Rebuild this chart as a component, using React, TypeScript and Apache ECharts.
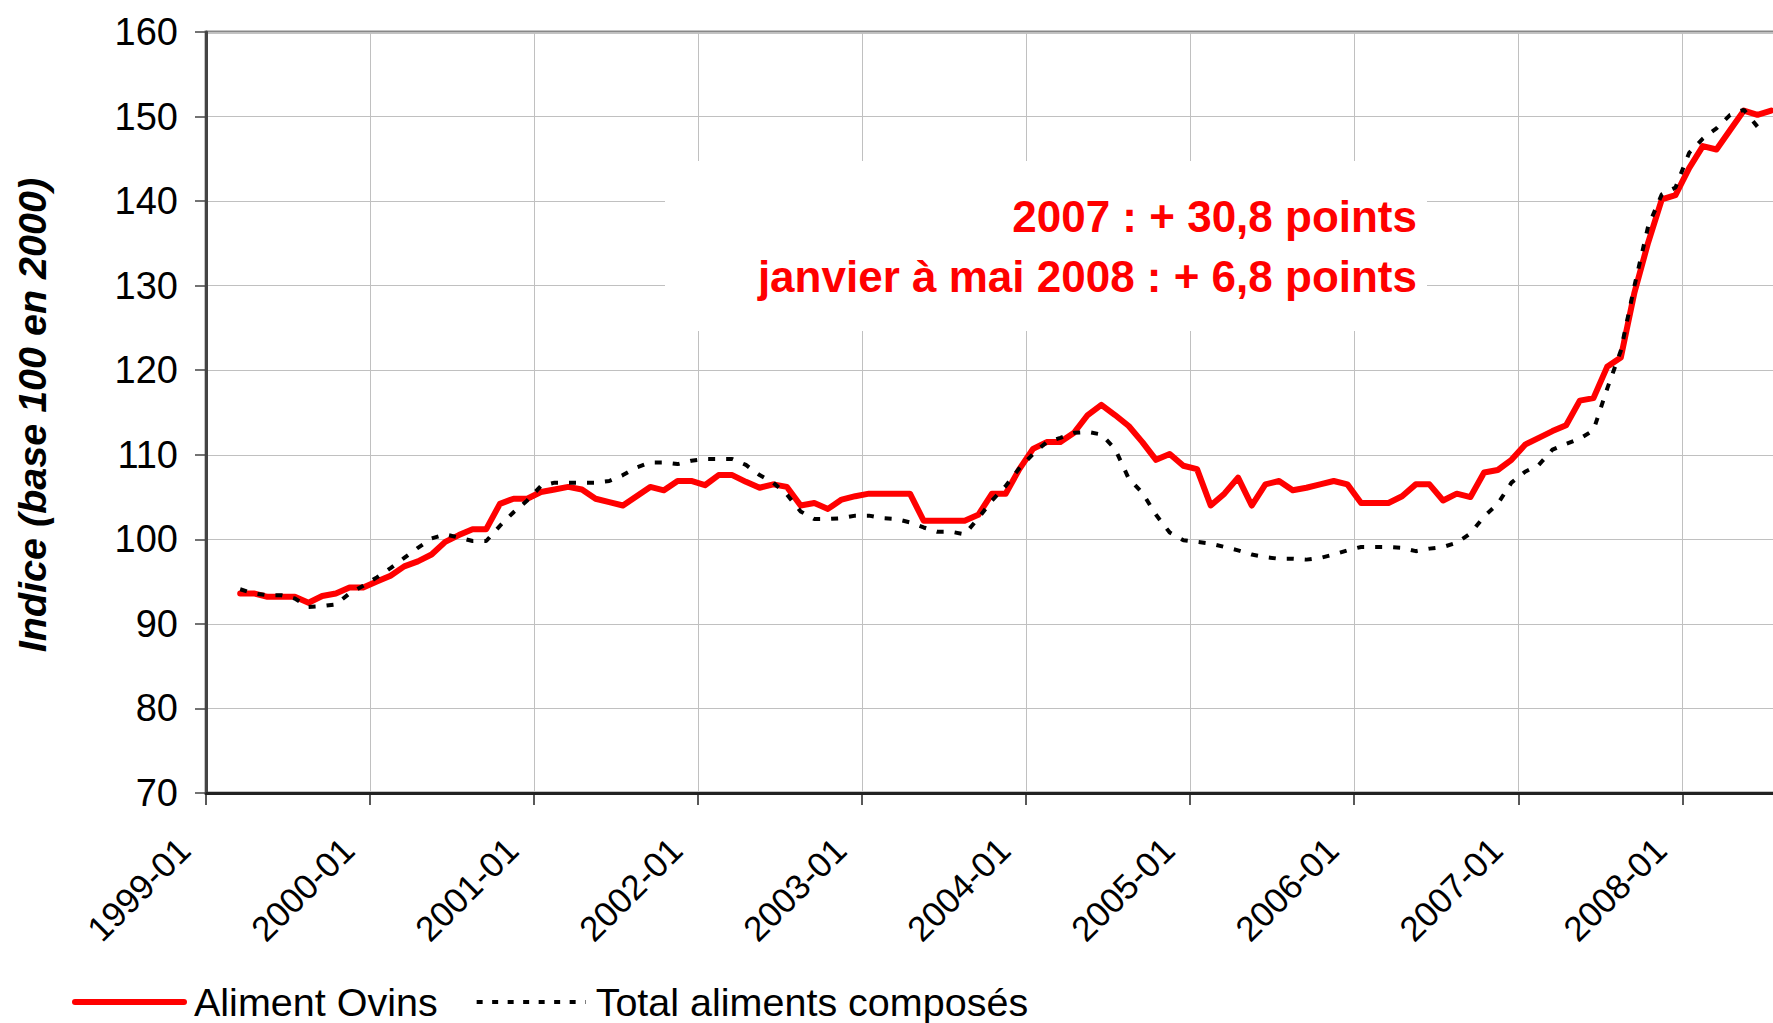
import React, { useEffect, useRef } from "react";
import * as echarts from "echarts";

const FONT = '"Liberation Sans", Arial, Helvetica, sans-serif';

// Category axis: months from 1999-01 to 2008-07
const years = [1999, 2000, 2001, 2002, 2003, 2004, 2005, 2006, 2007, 2008];
const monthLabels = ["01", "02", "03", "04", "05", "06", "07", "08", "09", "10", "11", "12"];
const lastYearMonthCount = 7;
const categories: string[] = [];
years.forEach((y, yi) => {
  const count = yi === years.length - 1 ? lastYearMonthCount : 12;
  for (let m = 0; m < count; m++) categories.push(`${y}-${monthLabels[m]}`);
});

// Indice (base 100 en 2000) - Aliment Ovins
const alimentOvins: (number | null)[] = [
  null, null, 93.6, 93.6, 93.2, 93.2, 93.2, 92.5, 93.3, 93.6, 94.3, 94.3,
  95.0, 95.7, 96.8, 97.4, 98.2, 99.7, 100.5, 101.2, 101.2, 104.2, 104.8, 104.8,
  105.6, 105.9, 106.2, 105.9, 104.8, 104.4, 104.0, 105.1, 106.2, 105.8, 106.9, 106.9,
  106.4, 107.6, 107.6, 106.8, 106.1, 106.5, 106.2, 104.0, 104.3, 103.6, 104.7, 105.1,
  105.4, 105.4, 105.4, 105.4, 102.2, 102.2, 102.2, 102.2, 102.9, 105.4, 105.4, 108.3,
  110.7, 111.5, 111.5, 112.6, 114.7, 115.9, 114.7, 113.4, 111.5, 109.4, 110.1, 108.7,
  108.3, 104.0, 105.4, 107.3, 104.0, 106.5, 106.9, 105.8, 106.1, 106.5, 106.9, 106.5,
  104.3, 104.3, 104.3, 105.1, 106.5, 106.5, 104.6, 105.4, 105.0, 107.9, 108.2, 109.4,
  111.2, 112.0, 112.8, 113.5, 116.4, 116.7, 120.4, 121.5, 129.2, 135.1, 140.2, 140.7,
  143.9, 146.5, 146.1, 148.4, 150.7, 150.2, 150.7,
];

// Total aliments composés
const totalAliments: (number | null)[] = [
  null, null, 94.1, 93.6, 93.4, 93.4, 93.0, 92.0, 92.1, 92.3, 93.6, 94.5,
  95.5, 96.6, 97.8, 99.0, 100.1, 100.6, 100.2, 99.8, 99.8, 101.6, 103.2, 104.6,
  106.3, 106.7, 106.7, 106.7, 106.7, 106.9, 107.6, 108.5, 109.1, 109.1, 108.9, 109.3,
  109.5, 109.5, 109.5, 108.8, 107.6, 106.7, 105.3, 103.3, 102.4, 102.4, 102.5, 102.8,
  102.8, 102.5, 102.4, 102.0, 101.4, 100.9, 100.9, 100.6, 102.5, 104.6, 106.3, 108.4,
  110.1, 111.5, 112.0, 112.6, 112.7, 112.4, 110.7, 107.2, 105.5, 102.9, 100.8, 99.9,
  99.7, 99.5, 99.1, 98.7, 98.2, 97.9, 97.7, 97.7, 97.6, 97.8, 98.2, 98.7,
  99.1, 99.1, 99.1, 99.0, 98.6, 98.9, 99.1, 99.6, 100.7, 102.7, 104.2, 106.7,
  108.0, 108.8, 110.6, 111.3, 111.9, 112.9, 117.8, 122.3, 130.0, 137.0, 140.8, 141.6,
  145.7, 147.4, 148.6, 150.2, 150.8, 148.8, null,
];

const seriesNames = ["Aliment Ovins", "Total aliments composés"];
const yMin = 70;
const yMax = 160;
const yStep = 10;
const yTitle = "Indice (base 100 en 2000)";
const annotationLines = ["2007 : + 30,8 points", "janvier à mai 2008 : + 6,8 points"];

export default function App() {
  const ref = useRef<HTMLDivElement>(null);

  useEffect(() => {
    if (!ref.current) return;
    const chart = echarts.init(ref.current, undefined, { renderer: "svg" });
    chart.setOption({
      animation: false,
      backgroundColor: "#ffffff",
      grid: {
        left: 206,
        top: 32,
        width: 1572,
        bottom: 230,
        outerBoundsMode: "none",
        containLabel: false,
        show: true,
        borderColor: "#888888",
        borderWidth: 3,
        backgroundColor: "transparent",
      },
      xAxis: {
        type: "category",
        data: categories,
        boundaryGap: true,
        axisLine: { show: true, lineStyle: { color: "#222222", width: 3 } },
        axisTick: { show: true, interval: 11, length: 12, lineStyle: { color: "#222222", width: 1.5 } },
        axisLabel: {
          interval: 11,
          rotate: 45,
          margin: 22,
          padding: [0, 41, 0, 0],
          fontSize: 35,
          fontFamily: FONT,
          color: "#000000",
        },
        splitLine: { show: true, interval: 11, lineStyle: { color: "#c0c0c0", width: 1 } },
      },
      yAxis: {
        type: "value",
        min: yMin,
        max: yMax,
        interval: yStep,
        axisLine: { show: true, lineStyle: { color: "#444444", width: 3 } },
        axisTick: { show: true, length: 11, lineStyle: { color: "#444444", width: 1.5 } },
        axisLabel: { margin: 28, fontSize: 38, fontFamily: FONT, color: "#000000" },
        splitLine: { show: true, lineStyle: { color: "#c0c0c0", width: 1 } },
      },
      legend: {
        left: 67,
        top: 977,
        itemWidth: 109,
        itemHeight: 20,
        itemGap: 37,
        textStyle: {
          fontSize: 39.5,
          lineHeight: 40,
          fontFamily: FONT,
          color: "#000000",
          padding: [0, 0, 0, 5],
        },
        data: [
          {
            name: seriesNames[0],
            itemStyle: { opacity: 0 },
            lineStyle: { color: "#ff0000", width: 6, cap: "round" },
          },
          {
            name: seriesNames[1],
            itemStyle: { opacity: 0 },
            lineStyle: { color: "#000000", width: 4, type: [6, 9.5] },
          },
        ],
      },
      graphic: [
        {
          type: "rect",
          z: 1,
          shape: { x: 665, y: 161, width: 762, height: 170 },
          style: { fill: "#ffffff" },
        },
        {
          type: "text",
          z: 10,
          x: 1417,
          y: 216,
          style: {
            text: annotationLines[0],
            font: `bold 44px ${FONT}`,
            fill: "#ff0000",
            align: "right",
            verticalAlign: "middle",
            textAlign: "right",
            textVerticalAlign: "middle",
          },
        },
        {
          type: "text",
          z: 10,
          x: 1417,
          y: 276,
          style: {
            text: annotationLines[1],
            font: `bold 44px ${FONT}`,
            fill: "#ff0000",
            align: "right",
            verticalAlign: "middle",
            textAlign: "right",
            textVerticalAlign: "middle",
          },
        },
        {
          type: "text",
          z: 10,
          x: 32,
          y: 415,
          rotation: Math.PI / 2,
          style: {
            text: yTitle,
            font: `italic bold 39.5px ${FONT}`,
            fill: "#000000",
            align: "center",
            verticalAlign: "middle",
            textAlign: "center",
            textVerticalAlign: "middle",
          },
        },
      ],
      series: [
        {
          name: seriesNames[0],
          type: "line",
          data: alimentOvins,
          symbol: "none",
          z: 3,
          lineStyle: { color: "#ff0000", width: 6, cap: "round", join: "round" },
          itemStyle: { color: "#ff0000" },
        },
        {
          name: seriesNames[1],
          type: "line",
          data: totalAliments,
          symbol: "none",
          z: 4,
          lineStyle: { color: "#000000", width: 4, type: [7, 11] },
          itemStyle: { color: "#000000" },
        },
      ],
    });
    return () => chart.dispose();
  }, []);

  return (
    <div
      ref={ref}
      style={{ position: "absolute", left: 0, top: 0, width: 1773, height: 1023, background: "#fff" }}
    />
  );
}
